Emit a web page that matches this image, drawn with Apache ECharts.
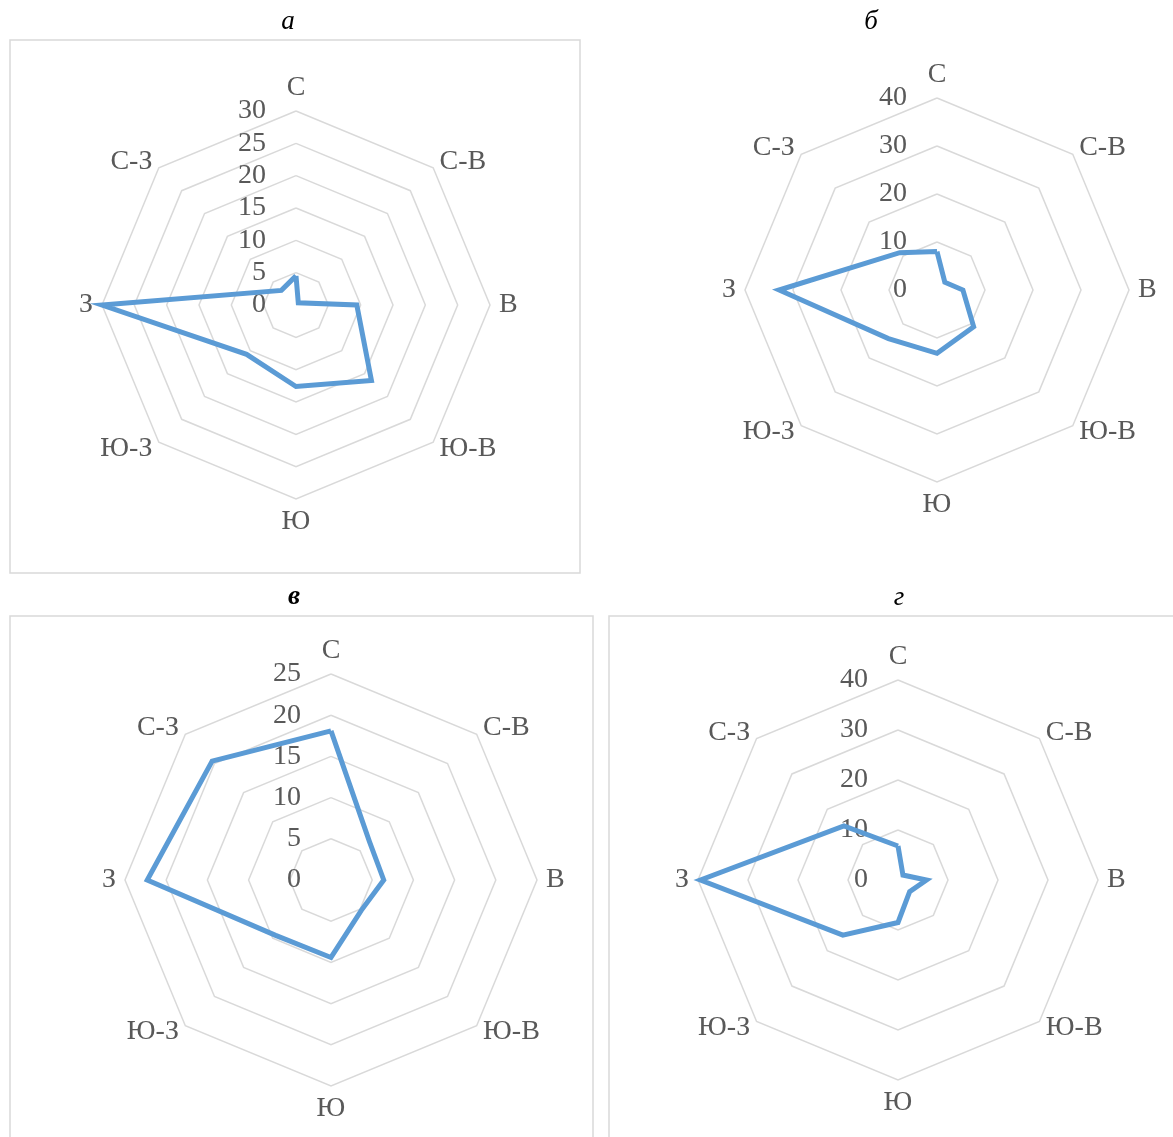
<!DOCTYPE html>
<html><head><meta charset="utf-8">
<script src="https://cdn.jsdelivr.net/npm/echarts@6/dist/echarts.min.js"></script>
<style>html,body{margin:0;padding:0;background:#fff;}#c{width:1173px;height:1137px;}</style>
</head><body><div id="c"></div>
<script>
// Directions, clockwise from north
const directions = ['С', 'С-В', 'В', 'Ю-В', 'Ю', 'Ю-З', 'З', 'С-З'];
const panelTitles = ['а', 'б', 'в', 'г'];
const valuesA = [4.5, 0.5, 9.4, 16.5, 12.6, 10.8, 30, 3.2];
const valuesB = [8.0, 2.3, 5.4, 10.8, 13.2, 14.3, 32.9, 11.0];
const valuesV = [18.1, 6.6, 6.4, 5.2, 9.4, 9.5, 22.3, 20.4];
const valuesG = [6.8, 1.4, 5.7, 3.3, 8.5, 15.6, 39.5, 15.3];
const axisMax = [30, 40, 25, 40];
const axisSplits = [6, 4, 5, 4];

const panels = [
  { values: valuesA, center: [296, 305], radius: 194, titlePos: [283, 3] },
  { values: valuesB, center: [937, 290], radius: 192, titlePos: [866, 3] },
  { values: valuesV, center: [331, 880], radius: 206, titlePos: [289, 579] },
  { values: valuesG, center: [898, 880], radius: 200, titlePos: [894, 579] }
];

// ECharts lays indicators counter-clockwise; reorder to get clockwise like the source
const cwOrder = [0, 7, 6, 5, 4, 3, 2, 1];
const FONT = '"Liberation Serif", "Times New Roman", serif';
const GRAY = '#595959';

const radars = [], series = [], titles = [];
panels.forEach((p, i) => {
  radars.push({
    center: p.center,
    radius: p.radius,
    startAngle: 90,
    shape: 'polygon',
    splitNumber: axisSplits[i],
    indicator: cwOrder.map((k, j) => ({
      name: directions[k], min: 0, max: axisMax[i],
      axisLabel: j === 0 ? { show: true } : { show: false }
    })),
    axisName: { color: GRAY, fontSize: 28, fontFamily: FONT },
    nameGap: 9,
    axisLine: { show: false },
    axisTick: { show: false },
    axisLabel: { show: false, color: GRAY, fontSize: 28, fontFamily: FONT, margin: 30 },
    splitLine: { lineStyle: { color: '#d9d9d9', width: 1.5 } },
    splitArea: { show: false }
  });
  series.push({
    type: 'radar', radarIndex: i, symbol: 'none', silent: true,
    lineStyle: { color: '#5b9bd5', width: 5, join: 'miter' },
    data: [{ value: cwOrder.map(k => p.values[k]) }]
  });
  titles.push({
    text: panelTitles[i], left: p.titlePos[0], top: p.titlePos[1], textAlign: 'center',
    textStyle: { fontFamily: FONT, fontStyle: 'italic', fontWeight: i === 2 ? 'bold' : 'normal', fontSize: 27, color: '#000' }
  });
});

const chart = echarts.init(document.getElementById('c'), null, { renderer: 'canvas' });
chart.setOption({
  animation: false,
  backgroundColor: '#fff',
  title: titles,
  radar: radars,
  series: series,
  graphic: [
    { type: 'rect', shape: { x: 10, y: 40, width: 570, height: 533 }, style: { fill: 'none', stroke: '#d9d9d9', lineWidth: 1.5 } },
    { type: 'rect', shape: { x: 10, y: 616, width: 583, height: 600 }, style: { fill: 'none', stroke: '#d9d9d9', lineWidth: 1.5 } },
    { type: 'rect', shape: { x: 609, y: 616, width: 600, height: 600 }, style: { fill: 'none', stroke: '#d9d9d9', lineWidth: 1.5 } }
  ]
});
</script></body></html>
